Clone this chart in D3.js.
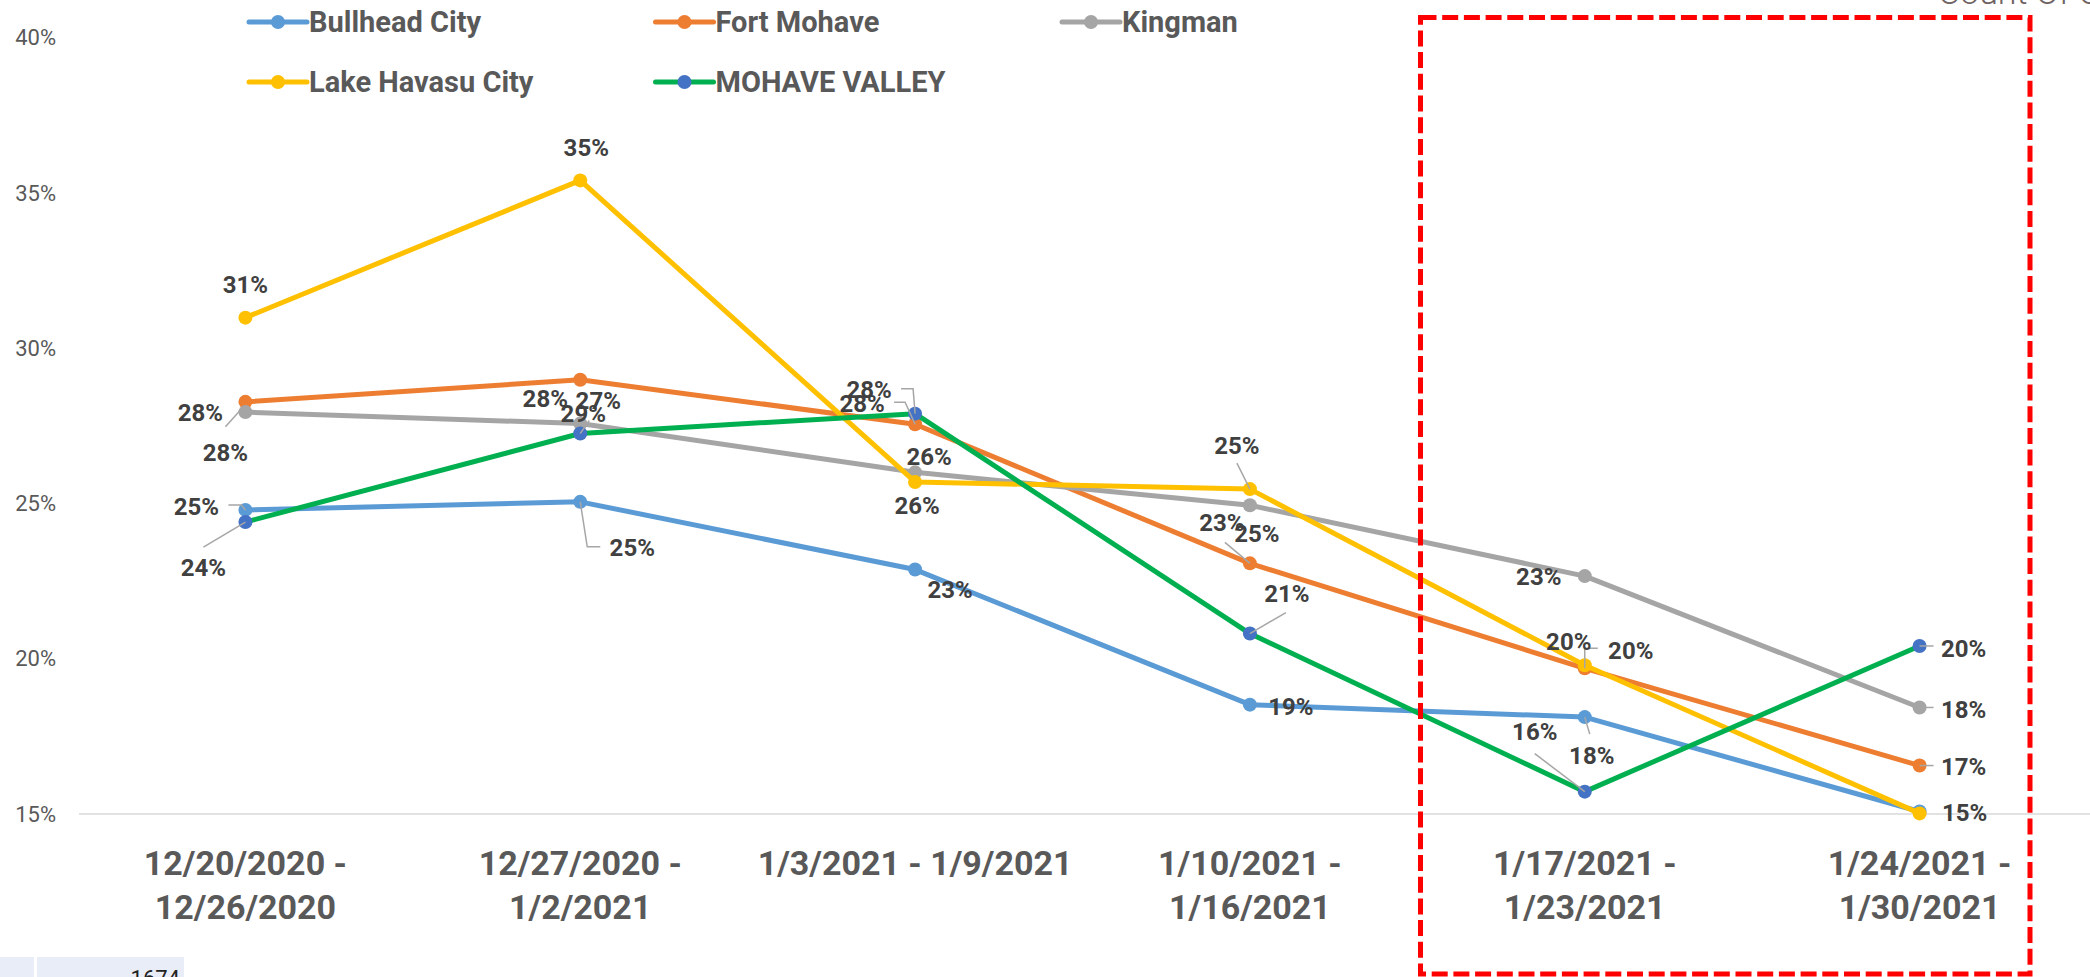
<!DOCTYPE html>
<html>
  <head>
    <meta charset="utf-8">
    <title>Mohave County - weekly positivity</title>
    <style>
      body{
        margin: 0;
        background: white;
      }
      svg{
        display: block;
        font-family: Roboto, "Noto Sans", sans-serif;
      }
    </style>
  </head>
  <body>
    <svg id="chart" width="2090" height="977"></svg>
  </body>
  <script src="https://d3js.org/d3.v7.min.js"></script>
  <script>
    // weeks on the x axis (two lines each where the sheet wrapped them)
    var weeks = [
      ["12/20/2020 -", "12/26/2020"],
      ["12/27/2020 -", "1/2/2021"],
      ["1/3/2021 - 1/9/2021"],
      ["1/10/2021 -", "1/16/2021"],
      ["1/17/2021 -", "1/23/2021"],
      ["1/24/2021 -", "1/30/2021"]
    ]
    var yTicks = [15, 20, 25, 30, 35, 40]

    // percent values
    var bullhead    = [24.79, 25.05, 22.87, 18.52, 18.12, 15.08]
    var fortMohave  = [28.27, 28.98, 27.55, 23.07, 19.69, 16.56]
    var kingman     = [27.94, 27.57, 26.00, 24.94, 22.66, 18.43]
    var lakeHavasu  = [30.98, 35.40, 25.69, 25.46, 19.79, 15.02]
    var mohaveValley= [24.40, 27.25, 27.89, 20.81, 15.72, 20.41]

    var series = [
      {name:"Bullhead City", values:bullhead, line:"#5b9bd5", marker:"#5b9bd5"},
      {name:"Fort Mohave", values:fortMohave, line:"#ed7d31", marker:"#ed7d31"},
      {name:"Kingman", values:kingman, line:"#a5a5a5", marker:"#a5a5a5"},
      {name:"Lake Havasu City", values:lakeHavasu, line:"#ffc000", marker:"#ffc000"},
      {name:"MOHAVE VALLEY", values:mohaveValley, line:"#00b050", marker:"#4472c4"}
    ]

    // hand placed data labels: offset from the point, plus optional leader line
    var labelPlacement = {
      "Bullhead City": [
        {dx:-49, dy:-3, leader:[[-17,-5],[-4,-5],[0,0]]},
        {dx:52, dy:46, leader:[[20,45],[7,45],[0,0]]},
        {dx:35, dy:20},
        {dx:41, dy:2},
        {dx:7, dy:39, leader:[[5,17],[0,0]]},
        {dx:45, dy:1}
      ],
      "Fort Mohave": [
        {dx:-20, dy:51, leader:[[-20,25],[-2,5]]},
        {dx:3, dy:34},
        {dx:-53, dy:-21, leader:[[-21,-22],[-10,-22],[0,0]]},
        {dx:-28, dy:-41, leader:[[-25,-21],[0,0]]},
        {dx:46, dy:-18, leader:[[13,-20],[0,-20],[0,0]]},
        {dx:44, dy:1, leader:[[14,0],[0,0]]}
      ],
      "Kingman": [
        {dx:-45, dy:1},
        {dx:-35, dy:-25},
        {dx:14, dy:-16},
        {dx:7, dy:28},
        {dx:-46, dy:1},
        {dx:44, dy:2, leader:[[14,0],[0,0]]}
      ],
      "Lake Havasu City": [
        {dx:0, dy:-33},
        {dx:6, dy:-33},
        {dx:2, dy:24},
        {dx:-13, dy:-44, leader:[[-13,-26],[0,0]]},
        {dx:-16, dy:-24},
        null
      ],
      "MOHAVE VALLEY": [
        {dx:-42, dy:46, leader:[[-42,25],[0,0]]},
        {dx:18, dy:-33, leader:[[9,-13],[0,0]]},
        {dx:-46, dy:-24, leader:[[-14,-25],[-2,-25],[0,0]]},
        {dx:37, dy:-40, leader:[[36,-21],[0,0]]},
        {dx:-50, dy:-60, leader:[[-50,-38],[0,0]]},
        {dx:44, dy:3, leader:[[14,0],[0,0]]}
      ]
    }

    var svg = d3.select("#chart")

    var x = d3.scalePoint().domain(d3.range(weeks.length)).range([78, 2087]).padding(0.5)
    var y = d3.scaleLinear().domain([15, 40]).range([814, 37.5])

    // partial title cut off at the top right
    svg.append("text").attr("x", 1938).attr("y", 4)
      .attr("font-size", 34).attr("font-weight", 300).attr("fill", "#6f6262")
      .text("Count Of Cases")

    // y axis labels, no gridlines except the base line
    svg.append("g").selectAll("text").data(yTicks).enter().append("text")
      .attr("x", 56).attr("y", function(d){ return y(d) })
      .attr("dy", "0.35em").attr("text-anchor", "end")
      .attr("font-size", 22).attr("fill", "#595959")
      .text(function(d){ return d + "%" })

    svg.append("line").attr("x1", 79).attr("x2", 2090)
      .attr("y1", y(15)).attr("y2", y(15))
      .attr("stroke", "#d9d9d9").attr("stroke-width", 1.5)

    // x axis labels
    svg.append("g").selectAll("text").data(weeks).enter().append("text")
      .attr("text-anchor", "middle").attr("font-size", 34).attr("font-weight", "bold")
      .attr("fill", "#595959")
      .each(function(lines, i){
        d3.select(this).selectAll("tspan").data(lines).enter().append("tspan")
          .attr("x", x(i)).attr("y", function(l, j){ return 875 + j*44 })
          .text(function(l){ return l })
      })

    var line = d3.line()
      .x(function(d, i){ return x(i) })
      .y(function(d){ return y(d) })

    series.forEach(function(s){
      var g = svg.append("g")
      g.append("path").attr("d", line(s.values))
        .attr("fill", "none").attr("stroke", s.line)
        .attr("stroke-width", 5).attr("stroke-linejoin", "round")
      g.selectAll("circle").data(s.values).enter().append("circle")
        .attr("cx", function(d, i){ return x(i) })
        .attr("cy", function(d){ return y(d) })
        .attr("r", 7).attr("fill", s.marker)
    })

    // leader lines and data labels on top
    var labels = svg.append("g")
    series.forEach(function(s){
      s.values.forEach(function(v, i){
        var p = labelPlacement[s.name][i]
        if(!p) return
        var px = x(i), py = y(v)
        if(p.leader){
          labels.append("polyline")
            .attr("points", p.leader.map(function(q){ return (px+q[0]) + "," + (py+q[1]) }).join(" "))
            .attr("fill", "none").attr("stroke", "#a6a6a6").attr("stroke-width", 1.5)
        }
        labels.append("text")
          .attr("x", px + p.dx).attr("y", py + p.dy).attr("dy", "0.35em")
          .attr("text-anchor", "middle").attr("font-size", 24).attr("font-weight", "bold")
          .attr("fill", "#404040")
          .text(Math.round(v) + "%")
      })
    })

    // legend, two rows of three
    var legend = svg.append("g").selectAll("g").data(series).enter().append("g")
      .attr("transform", function(d, i){
        return "translate(" + (249 + (i % 3)*406.5) + "," + (22 + Math.floor(i/3)*60) + ")"
      })
    legend.append("line").attr("x1", 0).attr("x2", 58)
      .attr("stroke", function(d){ return d.line }).attr("stroke-width", 5)
      .attr("stroke-linecap", "round")
    legend.append("circle").attr("cx", 29).attr("r", 7)
      .attr("fill", function(d){ return d.marker })
    legend.append("text").attr("x", 60).attr("dy", "0.35em")
      .attr("font-size", 29).attr("font-weight", "bold").attr("fill", "#595959")
      .text(function(d){ return d.name })

    // red dashed highlight box over the last two weeks
    svg.append("rect").attr("x", 1420.5).attr("y", 17.5)
      .attr("width", 2030 - 1420.5).attr("height", 974 - 17.5)
      .attr("fill", "none").attr("stroke", "#ff0000").attr("stroke-width", 5)
      .attr("stroke-dasharray", "16,5.7")

    // spreadsheet cells peeking in at the bottom left
    svg.append("rect").attr("x", 0).attr("y", 957).attr("width", 34).attr("height", 20).attr("fill", "#e9edf7")
    svg.append("rect").attr("x", 37).attr("y", 957).attr("width", 147).attr("height", 20).attr("fill", "#e9edf7")
    svg.append("text").attr("x", 180).attr("y", 986).attr("text-anchor", "end")
      .attr("font-size", 22).attr("fill", "#222").text("1674")
  </script>
</html>
